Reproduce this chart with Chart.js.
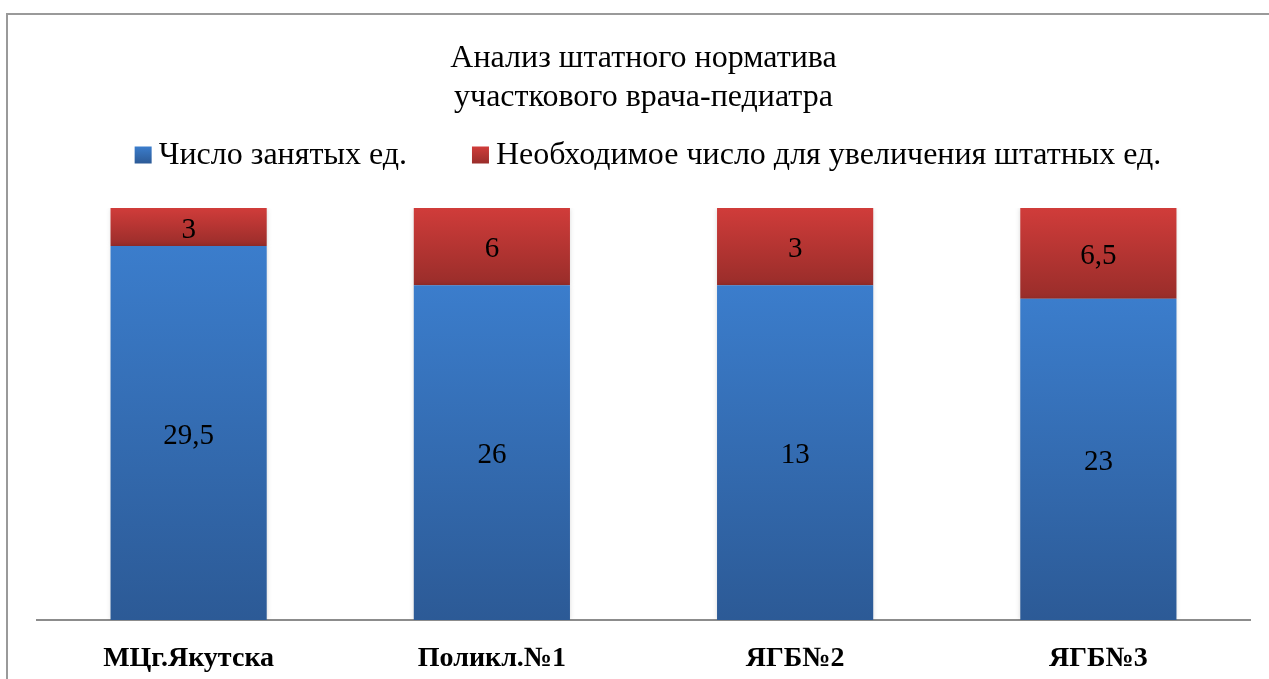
<!DOCTYPE html>
<html>
<head>
<meta charset="utf-8">
<script src="https://cdn.jsdelivr.net/npm/chart.js@4/dist/chart.umd.min.js"></script>
<style>
  html, body { margin: 0; padding: 0; background: #fff; }
  #wrap { position: relative; width: 1269px; height: 679px; overflow: hidden; }
  #frame { position: absolute; left: 6px; top: 13px; width: 1300px; height: 700px;
           border-top: 2px solid #9a9a9a; border-left: 2px solid #9a9a9a; }
  canvas { position: absolute; left: 0; top: 0; }
</style>
</head>
<body>
<div id="wrap">
  <div id="frame"></div>
  <canvas id="chart" width="1269" height="679"></canvas>
</div>
<script>
var categories = ["МЦг.Якутска", "Поликл.№1", "ЯГБ№2", "ЯГБ№3"];
var occupied = [29.5, 26, 13, 23];
var needed = [3, 6, 3, 6.5];
var seriesNames = ["Число занятых ед.", "Необходимое число для увеличения штатных ед."];

// 100% stacked: share of each part in the total
var occupiedPct = occupied.map(function (v, i) { return v / (v + needed[i]) * 100; });
var neededPct = needed.map(function (v, i) { return v / (occupied[i] + v) * 100; });

var serif = "'Liberation Serif', 'Times New Roman', serif";
var fills = [["#3b7dcc", "#2c5a96"], ["#d03c3a", "#992d2a"]];

function segGradient(ctx, from, to, top, bottom) {
  var chart = ctx.chart;
  var y = chart.scales.y;
  if (!chart.chartArea || !y) return top;
  var y0 = y.getPixelForValue(to);
  var y1 = y.getPixelForValue(from);
  if (!isFinite(y0) || !isFinite(y1) || y0 === y1) return top;
  var g = chart.ctx.createLinearGradient(0, y0, 0, y1);
  g.addColorStop(0, top);
  g.addColorStop(1, bottom);
  return g;
}

var valueLabels = {
  id: "valueLabels",
  beforeDatasetsDraw: function (chart) {
    var c = chart.ctx;
    c.save();
    c.shadowColor = "rgba(0,0,0,0.18)";
    c.shadowBlur = 5;
  },
  afterDatasetsDraw: function (chart) {
    var c = chart.ctx;
    c.restore();
    c.save();
    c.font = "29px " + serif;
    c.fillStyle = "#000";
    c.textAlign = "center";
    c.textBaseline = "middle";
    var raws = [occupied, needed];
    chart.data.datasets.forEach(function (ds, di) {
      chart.getDatasetMeta(di).data.forEach(function (bar, i) {
        var txt = String(raws[di][i]).replace(".", ",");
        c.fillText(txt, bar.x, (bar.y + bar.base) / 2 + 3);
      });
    });
    c.restore();
  }
};

// legend drawn by hand so the box/text gaps match the original
var ownLegend = {
  id: "ownLegend",
  afterDraw: function (chart) {
    var c = chart.ctx;
    c.save();
    c.font = "32px " + serif;
    var box = 17, gapText = 7, gapItem = 65;
    var widths = seriesNames.map(function (s) { return c.measureText(s).width; });
    var total = box + gapText + widths[0] + gapItem + box + gapText + widths[1];
    var x = 648 - total / 2;
    var yMid = 155;
    c.textBaseline = "middle";
    c.textAlign = "left";
    seriesNames.forEach(function (s, i) {
      var g = c.createLinearGradient(0, yMid - box / 2, 0, yMid + box / 2);
      g.addColorStop(0, fills[i][0]);
      g.addColorStop(1, fills[i][1]);
      c.fillStyle = g;
      c.fillRect(x, yMid - box / 2, box, box);
      x += box + gapText;
      c.fillStyle = "#000";
      c.fillText(s, x, yMid + 1);
      x += widths[i] + gapItem;
    });
    c.restore();
  }
};

new Chart(document.getElementById("chart"), {
  type: "bar",
  data: {
    labels: categories,
    datasets: [
      {
        label: seriesNames[0],
        data: occupiedPct,
        backgroundColor: function (ctx) {
          var i = ctx.dataIndex;
          if (i === undefined) return fills[0][0];
          return segGradient(ctx, 0, occupiedPct[i], fills[0][0], fills[0][1]);
        }
      },
      {
        label: seriesNames[1],
        data: neededPct,
        backgroundColor: function (ctx) {
          var i = ctx.dataIndex;
          if (i === undefined) return fills[1][0];
          return segGradient(ctx, occupiedPct[i], 100, fills[1][0], fills[1][1]);
        }
      }
    ]
  },
  plugins: [valueLabels, ownLegend],
  options: {
    responsive: false,
    animation: false,
    devicePixelRatio: 1,
    categoryPercentage: 1,
    barPercentage: 0.515,
    layout: { padding: { left: 37, right: 19, top: 39, bottom: 4 } },
    plugins: {
      title: {
        display: true,
        text: ["Анализ штатного норматива", "участкового врача-педиатра"],
        color: "#000",
        font: { family: serif, size: 32, weight: "normal", lineHeight: 1.22 },
        padding: { top: 0, bottom: 91 }
      },
      legend: { display: false },
      tooltip: { enabled: false }
    },
    scales: {
      x: {
        stacked: true,
        grid: { display: false },
        border: { display: true, color: "#8c8c8c", width: 2 },
        afterFit: function (scale) { scale.height = 55; },
        ticks: {
          color: "#000",
          padding: 14,
          font: { family: serif, size: 28, weight: "bold" }
        }
      },
      y: {
        stacked: true,
        display: false,
        min: 0,
        max: 100
      }
    }
  }
});
</script>
</body>
</html>
